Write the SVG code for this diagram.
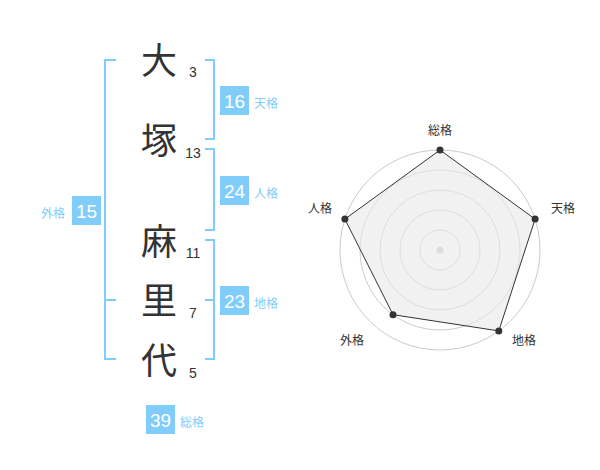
<svg xmlns="http://www.w3.org/2000/svg" width="600" height="470" viewBox="0 0 600 470">
<style>
.ch{font-family:"Noto Sans CJK JP","Noto Sans CJK SC",sans-serif;font-size:36px;fill:#333;text-anchor:middle}
.num{font-family:"Liberation Sans",Arial,sans-serif;font-size:14px;fill:#333;text-anchor:middle}
.box{fill:#80cdfb}
.bt{font-family:"Liberation Sans",Arial,sans-serif;font-size:19px;fill:#fff;text-anchor:middle}
.bl{font-family:"Noto Sans CJK JP","Noto Sans CJK SC",sans-serif;font-size:12px;fill:#80cdfb}
.br{fill:none;stroke:#80cdfb;stroke-width:2}
.ring{fill:none;stroke:#ccc;stroke-width:1}
.rl{font-family:"Noto Sans CJK JP","Noto Sans CJK SC",sans-serif;font-size:12px;fill:#333;text-anchor:middle}
.pt{fill:#333}
</style>
<g id="chars">
<text class="ch" x="159" y="74">大</text>
<text class="ch" x="159" y="154">塚</text>
<text class="ch" x="159" y="255">麻</text>
<text class="ch" x="159" y="314">里</text>
<text class="ch" x="159" y="374">代</text>
<text class="num" x="193" y="77">3</text>
<text class="num" x="193" y="158">13</text>
<text class="num" x="193" y="258">11</text>
<text class="num" x="193" y="318">7</text>
<text class="num" x="193" y="378">5</text>
</g>
<g id="connectors">
<path class="br" d="M116,60 H105 V359 H116 M105,300 H116"/>
<path class="br" d="M205,60 H214 V139 H205"/>
<path class="br" d="M205,149 H214 V230 H205"/>
<path class="br" d="M205,240 H214 V359 H205 M205,300 H214"/>
</g>
<g id="tenkaku">
<rect class="box" x="220" y="86" width="29" height="29"/>
<text class="bt" x="234.5" y="107.5">16</text>
<text class="bl" x="254" y="108">天格</text>
</g>
<g id="jinkaku">
<rect class="box" x="220" y="176" width="29" height="29"/>
<text class="bt" x="234.5" y="197.5">24</text>
<text class="bl" x="254" y="198">人格</text>
</g>
<g id="gaikaku">
<rect class="box" x="72" y="196" width="29" height="29"/>
<text class="bt" x="86.5" y="217.5">15</text>
<text class="bl" x="41" y="218">外格</text>
</g>
<g id="chikaku">
<rect class="box" x="220" y="286" width="29" height="29"/>
<text class="bt" x="234.5" y="307.5">23</text>
<text class="bl" x="254" y="308">地格</text>
</g>
<g id="soukaku">
<rect class="box" x="146" y="405" width="29" height="29"/>
<text class="bt" x="160.5" y="426.5">39</text>
<text class="bl" x="180" y="427">総格</text>
</g>
<g id="radar">
<circle class="ring" cx="440" cy="250" r="20"/>
<circle class="ring" cx="440" cy="250" r="40"/>
<circle class="ring" cx="440" cy="250" r="60"/>
<circle class="ring" cx="440" cy="250" r="80"/>
<circle class="ring" cx="440" cy="250" r="100"/>
<circle cx="440" cy="250" r="3.5" fill="#ccc"/>
<polygon points="440,150 535.1,219.1 498.8,330.9 393,314.7 344.9,219.1" fill="#e8e8e8" fill-opacity="0.6" stroke="#333" stroke-width="1"/>
<circle class="pt" cx="440" cy="150" r="3.5"/>
<circle class="pt" cx="535.1" cy="219.1" r="3.5"/>
<circle class="pt" cx="498.8" cy="330.9" r="3.5"/>
<circle class="pt" cx="393" cy="314.7" r="3.5"/>
<circle class="pt" cx="344.9" cy="219.1" r="3.5"/>
<text class="rl" x="440" y="135">総格</text>
<text class="rl" x="563" y="213">天格</text>
<text class="rl" x="524" y="345">地格</text>
<text class="rl" x="352" y="345">外格</text>
<text class="rl" x="320" y="213">人格</text>
</g>
</svg>
